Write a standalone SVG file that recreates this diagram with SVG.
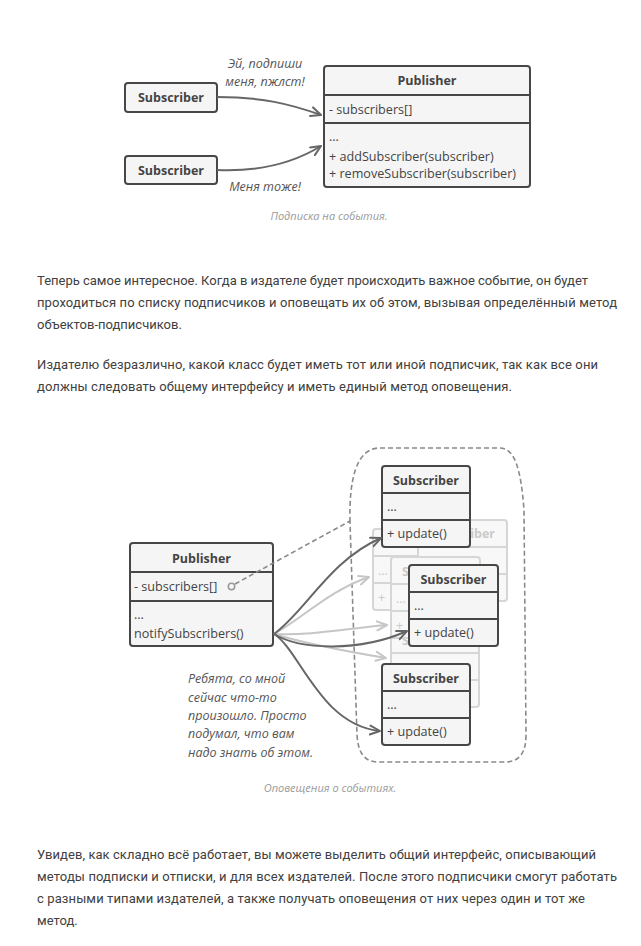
<svg xmlns="http://www.w3.org/2000/svg" width="641" height="946" viewBox="0 0 641 946">
<defs>
<style>
.box{fill:#f5f5f5;stroke:#474747;stroke-width:2}
.sep{stroke:#474747;stroke-width:2;fill:none}
.ghost{fill:#f8f8f8;stroke:#d6d6d6;stroke-width:2}
.gsep{stroke:#d6d6d6;stroke-width:2;fill:none}
.h{font-family:"Open Sans","Noto Sans",sans-serif;font-weight:bold;font-size:12.5px;fill:#444;text-anchor:middle}
.t{font-family:"Open Sans","Noto Sans",sans-serif;font-size:12.6px;fill:#444}
.gh{font-family:"Open Sans","Noto Sans",sans-serif;font-weight:bold;font-size:12.5px;fill:#cacaca}
.gt{font-family:"Open Sans","Noto Sans",sans-serif;font-size:12.6px;fill:#cacaca}
.note{font-family:"Open Sans","Noto Sans",sans-serif;font-style:italic;font-size:12.5px;fill:#555}
.cap{font-family:"Open Sans","Noto Sans",sans-serif;font-style:italic;font-size:11px;fill:#9a9a9a;text-anchor:middle}
.p{font-family:Roboto,"Noto Sans",sans-serif;font-size:13px;fill:#404040}
.ad{fill:none;stroke:#666;stroke-width:2;marker-end:url(#md)}
.al{fill:none;stroke:#c6c6c6;stroke-width:2;marker-end:url(#ml)}
.dash{fill:none;stroke:#8a8a8a;stroke-width:1.6;stroke-dasharray:5 3}
</style>
<marker id="md" viewBox="0 0 12 12" markerWidth="12" markerHeight="12" refX="11" refY="6" orient="auto" markerUnits="userSpaceOnUse">
<path d="M1,1.5 L11,6 L1,10.5" fill="none" stroke="#666" stroke-width="2" stroke-linecap="round" stroke-linejoin="round"/>
</marker>
<marker id="ml" viewBox="0 0 12 12" markerWidth="12" markerHeight="12" refX="11" refY="6" orient="auto" markerUnits="userSpaceOnUse">
<path d="M1,1.5 L11,6 L1,10.5" fill="none" stroke="#c6c6c6" stroke-width="2" stroke-linecap="round" stroke-linejoin="round"/>
</marker>
</defs>
<rect width="641" height="946" fill="#fff"/>

<!-- Diagram 1 -->
<g id="sub-top-1">
<rect class="box" x="125" y="83" width="92" height="29" rx="3"/>
<text class="h" x="171" y="102">Subscriber</text>
</g>
<g id="sub-top-2">
<rect class="box" x="125" y="156" width="92" height="28" rx="3"/>
<text class="h" x="171" y="175">Subscriber</text>
</g>
<g id="pub-top">
<rect class="box" x="324" y="66" width="206" height="121" rx="3"/>
<line class="sep" x1="324" y1="95" x2="530" y2="95"/>
<line class="sep" x1="324" y1="123" x2="530" y2="123"/>
<text class="h" x="427" y="85">Publisher</text>
<text class="t" x="329" y="114">- subscribers[]</text>
<text class="t" x="329" y="141">...</text>
<text class="t" x="329" y="161">+ addSubscriber(subscriber)</text>
<text class="t" x="329" y="178">+ removeSubscriber(subscriber)</text>
</g>
<g id="connectors-top">
<path class="ad" d="M217,97 C262,97 290,104 321,115"/>
<path class="ad" d="M217,170 C262,172 295,162 321,146"/>
</g>
<g id="labels-top">
<text class="note" x="265" y="68" text-anchor="middle">Эй, подпиши</text>
<text class="note" x="265" y="86" text-anchor="middle">меня, пжлст!</text>
<text class="note" x="265" y="191" text-anchor="middle">Меня тоже!</text>
<text class="cap" x="329" y="220">Подписка на события.</text>
</g>

<!-- Paragraphs -->
<g id="para1">
<text class="p" x="37" y="285" textLength="551" lengthAdjust="spacing">Теперь самое интересное. Когда в издателе будет происходить важное событие, он будет</text>
<text class="p" x="37" y="307" textLength="580" lengthAdjust="spacing">проходиться по списку подписчиков и оповещать их об этом, вызывая определённый метод</text>
<text class="p" x="37" y="329">объектов-подписчиков.</text>
</g>
<g id="para2">
<text class="p" x="37" y="369" textLength="561" lengthAdjust="spacing">Издателю безразлично, какой класс будет иметь тот или иной подписчик, так как все они</text>
<text class="p" x="37" y="391" textLength="475" lengthAdjust="spacing">должны следовать общему интерфейсу и иметь единый метод оповещения.</text>
</g>

<!-- Diagram 2 -->
<path id="group-blob" class="dash" d="M350,522 C349,480 356,450 378,448 L500,448 C515,448 521,470 524,510 L526,735 C526,752 520,762 505,762 L378,762 C364,762 358,752 357,735 Z"/>

<g id="ghost-4">
<rect class="ghost" x="391" y="626" width="88" height="81" rx="3"/>
<line class="gsep" x1="391" y1="653" x2="479" y2="653"/>
<line class="gsep" x1="391" y1="680" x2="479" y2="680"/>
<text class="gh" x="402" y="645">S</text>
</g>
<g id="ghost-2">
<rect class="ghost" x="373" y="529" width="88" height="81" rx="3"/>
<line class="gsep" x1="373" y1="556" x2="461" y2="556"/>
<line class="gsep" x1="373" y1="583" x2="461" y2="583"/>
<text class="gt" x="378" y="575">...</text>
<text class="gt" x="378" y="602">+</text>
</g>
<g id="ghost-1">
<rect class="ghost" x="418" y="520" width="89" height="81" rx="3"/>
<line class="gsep" x1="418" y1="547" x2="507" y2="547"/>
<line class="gsep" x1="418" y1="574" x2="507" y2="574"/>
<text class="gh" x="495" y="538" text-anchor="end">iber</text>
</g>
<g id="ghost-3">
<rect class="ghost" x="391" y="557" width="89" height="81" rx="3"/>
<line class="gsep" x1="391" y1="584" x2="480" y2="584"/>
<line class="gsep" x1="391" y1="611" x2="480" y2="611"/>
<text class="gh" x="402" y="576">S</text>
<text class="gt" x="396" y="603">...</text>
<text class="gt" x="396" y="630">+</text>
</g>

<g id="pub-2">
<rect class="box" x="130" y="543" width="143" height="103" rx="3"/>
<line class="sep" x1="130" y1="572" x2="273" y2="572"/>
<line class="sep" x1="130" y1="601" x2="273" y2="601"/>
<text class="h" x="201.5" y="563">Publisher</text>
<text class="t" x="134" y="591">- subscribers[]</text>
<text class="t" x="134" y="619">...</text>
<text class="t" x="134" y="638">notifySubscribers()</text>
<circle cx="231.5" cy="586.5" r="3.2" fill="none" stroke="#999" stroke-width="1.5"/>
</g>

<g id="sub-1">
<rect class="box" x="382" y="466" width="88" height="81" rx="3"/>
<line class="sep" x1="382" y1="493" x2="470" y2="493"/>
<line class="sep" x1="382" y1="520" x2="470" y2="520"/>
<text class="h" x="426" y="485">Subscriber</text>
<text class="t" x="387" y="511">...</text>
<text class="t" x="387" y="538">+ update()</text>
</g>
<g id="sub-2">
<rect class="box" x="409" y="565" width="89" height="81" rx="3"/>
<line class="sep" x1="409" y1="592" x2="498" y2="592"/>
<line class="sep" x1="409" y1="619" x2="498" y2="619"/>
<text class="h" x="453.5" y="584">Subscriber</text>
<text class="t" x="414" y="610">...</text>
<text class="t" x="414" y="637">+ update()</text>
</g>
<g id="sub-3">
<rect class="box" x="382" y="664" width="88" height="81" rx="3"/>
<line class="sep" x1="382" y1="691" x2="470" y2="691"/>
<line class="sep" x1="382" y1="718" x2="470" y2="718"/>
<text class="h" x="426" y="683">Subscriber</text>
<text class="t" x="387" y="709">...</text>
<text class="t" x="387" y="736">+ update()</text>
</g>

<g id="connectors-2">
<path class="dash" d="M235,584 L350,521"/>
<path class="al" d="M274,634 C300,620 330,590 369,577"/>
<path class="al" d="M274,634 C310,636 350,628 387,625"/>
<path class="al" d="M274,634 C310,645 350,652 386,658"/>
<path class="ad" d="M274,634 C305,612 330,560 381,538"/>
<path class="ad" d="M274,634 C300,650 360,652 407,631"/>
<path class="ad" d="M274,634 C300,650 320,725 380,731"/>
</g>

<g id="labels-2">
<text class="note" x="188" y="683">Ребята, со мной</text>
<text class="note" x="188" y="702">сейчас что-то</text>
<text class="note" x="188" y="720">произошло. Просто</text>
<text class="note" x="188" y="738">подумал, что вам</text>
<text class="note" x="188" y="757">надо знать об этом.</text>
<text class="cap" x="330" y="792">Оповещения о событиях.</text>
</g>

<g id="para3">
<text class="p" x="37" y="859" textLength="559" lengthAdjust="spacing">Увидев, как складно всё работает, вы можете выделить общий интерфейс, описывающий</text>
<text class="p" x="37" y="881" textLength="580" lengthAdjust="spacing">методы подписки и отписки, и для всех издателей. После этого подписчики смогут работать</text>
<text class="p" x="37" y="903" textLength="548" lengthAdjust="spacing">с разными типами издателей, а также получать оповещения от них через один и тот же</text>
<text class="p" x="37" y="925">метод.</text>
</g>
</svg>
